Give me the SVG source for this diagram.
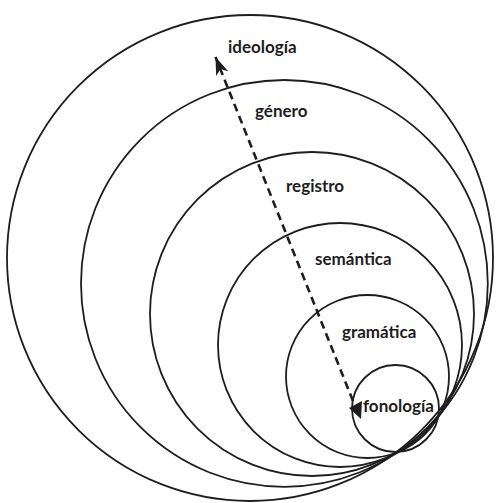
<svg xmlns="http://www.w3.org/2000/svg" width="498" height="503" viewBox="0 0 498 503">
<defs>
<style>
.ring{fill:none;stroke:#1e1e1e;stroke-width:1.8}
.lbl{font-family:Lato,"Open Sans",sans-serif;font-weight:700;font-size:17px;fill:#1e1e1e}
.dash{fill:none;stroke:#1e1e1e;stroke-width:2.6;stroke-dasharray:8 5}
</style>
<marker id="ah" viewBox="-18 -7 20 14" refX="0" refY="0" markerWidth="20" markerHeight="14" markerUnits="userSpaceOnUse" orient="auto">
<path d="M0,0 L-18,-6.5 L-13,0 L-18,6.5 Z" fill="#1e1e1e"/>
</marker>
</defs>
<rect width="498" height="503" fill="#ffffff"/>
<g id="ideologia">
<circle class="ring" cx="250" cy="258" r="243"/>
<text class="lbl" x="228" y="53">ideología</text>
</g>
<g id="genero">
<circle class="ring" cx="284.4" cy="283.4" r="203.4"/>
<text class="lbl" x="255" y="117">género</text>
</g>
<g id="registro">
<circle class="ring" cx="312" cy="314" r="162"/>
<text class="lbl" x="286" y="192">registro</text>
</g>
<g id="semantica">
<circle class="ring" cx="340" cy="345" r="122"/>
<text class="lbl" x="315" y="265">semántica</text>
</g>
<g id="gramatica">
<circle class="ring" cx="367.5" cy="376.5" r="81.5"/>
<text class="lbl" x="342" y="338">gramática</text>
</g>
<g id="fonologia">
<circle class="ring" cx="395.5" cy="408.5" r="43.5"/>
<text class="lbl" x="363" y="412">fonología</text>
</g>
<g id="connectors">
<line class="dash" x1="353" y1="401" x2="215.5" y2="57" marker-end="url(#ah)"/>
<polygon points="349,408 362,401 361,419" fill="#1e1e1e"/>
</g>
</svg>
